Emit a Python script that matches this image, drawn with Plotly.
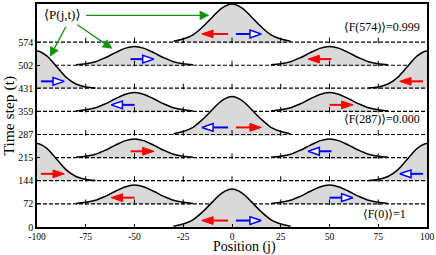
import plotly.graph_objects as go

# ---------------- data ----------------
levels = [0, 72, 144, 215, 287, 359, 431, 502, 574]
ytick_text = ["0", "72", "144", "215", "287", "359", "431", "502", "574"]
xtick_vals = [-100, -75, -50, -25, 0, 25, 50, 75, 100]
xtick_text = ["-100", "-75", "-50", "-25", "0", "25", "50", "75", "100"]

# wave-packet centres / heights on each time row
row_centers = [[0], [-50, 50], [-100, 100], [-50, 50], [0], [-50, 50], [-100, 100], [-50, 50], [0]]
row_heights = [[118], [58, 58], [115, 115], [58, 58], [118], [58, 58], [115, 115], [58, 58], [118]]
row_kind = ["free", "free", "edge", "free", "free", "free", "edge", "free", "free"]

# packet profile (relative to peak)
profile_offsets = [-30, -25, -20, -15, -10, -5, 0, 5, 10, 15, 20, 25, 30]
free_profile = [0.02, 0.08, 0.19, 0.40, 0.66, 0.90, 1.0, 0.90, 0.66, 0.40, 0.19, 0.08, 0.02]
edge_profile = [0.0, 0.03, 0.11, 0.29, 0.58, 0.87, 1.0, 0.87, 0.58, 0.29, 0.11, 0.03, 0.0]

# arrows: row level, tail x, head x, colour
arrow_row = [0, 0, 72, 72, 144, 144, 215, 215, 287, 287, 359, 359, 431, 431, 502, 502, 574, 574]
arrow_tail = [-2, 2, -50, 50, -98, 98, -52, 51, -2, 2, -50, 50, -98, 98, -52, 51, -2, 2]
arrow_head = [-15.5, 15, -62, 62, -86, 86, -40, 39, -15.5, 15, -62, 62, -86, 86, -40, 39, -15.5, 15]
arrow_kind = ["red", "blue", "red", "blue", "red", "blue", "red", "blue",
              "blue", "red", "blue", "red", "blue", "red", "blue", "red", "red", "blue"]
arrow_lift = {0: 20, 72: 19, 144: 21, 215: 20, 287: 22, 359: 20, 431: 21, 502: 19, 574: 25}

baseline_ticks = [-75, -50, -25, 0, 25, 50, 75]

fid_labels = ["⟨F(574)⟩=0.999", "⟨F(287)⟩=0.000", "⟨F(0)⟩=1"]
fid_x = [77, 77, 78]
fid_y = [622, 336, 41]

# ---------------- figure ----------------
FONT = "Liberation Serif, DejaVu Serif, serif"
GRAY = "#d9d9d9"
fig = go.Figure()

for i in reversed(range(len(levels))):
    lev = levels[i]
    prof = edge_profile if row_kind[i] == "edge" else free_profile
    for c, h in zip(row_centers[i], row_heights[i]):
        xs = [c + o for o in profile_offsets]
        ys = [lev + h * p for p in prof]
        fig.add_trace(go.Scatter(
            x=xs + [xs[-1], xs[0]], y=ys + [lev, lev], mode="lines",
            fill="toself", fillcolor=GRAY, line=dict(width=0, shape="spline"),
            hoverinfo="skip", showlegend=False))
        fig.add_trace(go.Scatter(
            x=xs, y=ys, mode="lines",
            line=dict(color="black", width=1.5, shape="spline"),
            hoverinfo="skip", showlegend=False))
    if lev > 0:
        fig.add_trace(go.Scatter(
            x=[-100, 100], y=[lev, lev], mode="lines",
            line=dict(color="black", width=1.2, dash="4px,2px"),
            hoverinfo="skip", showlegend=False))
        fig.add_trace(go.Scatter(
            x=baseline_ticks, y=[lev + 5] * len(baseline_ticks), mode="markers",
            marker=dict(symbol="line-ns", size=4, line=dict(color="black", width=1)),
            hoverinfo="skip", showlegend=False))

HEAD_L = 5.8   # head length (x units)
HEAD_H = 12.0  # head half-height (y units)
for lev, xt, xh, kind in zip(arrow_row, arrow_tail, arrow_head, arrow_kind):
    y = lev + arrow_lift[lev]
    d = 1 if xh > xt else -1
    base = xh - d * HEAD_L
    col = "#ff0000" if kind == "red" else "#0000ff"
    fig.add_trace(go.Scatter(
        x=[xt, base], y=[y, y], mode="lines",
        line=dict(color=col, width=2), hoverinfo="skip", showlegend=False))
    fig.add_trace(go.Scatter(
        x=[xh, base, base, xh], y=[y, y + HEAD_H, y - HEAD_H, y], mode="lines",
        fill="toself", fillcolor=col if kind == "red" else "white",
        line=dict(color=col, width=1 if kind == "red" else 1.5),
        hoverinfo="skip", showlegend=False))

annotations = []
for t, x, y in zip(fid_labels, fid_x, fid_y):
    annotations.append(dict(x=x, y=y, xref="x", yref="y", text=t, showarrow=False,
                            font=dict(family=FONT, size=12, color="black")))

annotations.append(dict(x=-86.8, y=658, xref="x", yref="y", text="⟨P(j,t)⟩",
                        showarrow=False, font=dict(family=FONT, size=13, color="black")))
GREEN = "#129412"
for (hx, hy, tx, ty) in [(-11.6, 657, -75.6, 657), (-93.4, 528, -84.8, 626), (-61.3, 553, -80.1, 631)]:
    annotations.append(dict(x=hx, y=hy, ax=tx, ay=ty, xref="x", yref="y", axref="x", ayref="y",
                            text="", showarrow=True, arrowhead=2, arrowsize=1.5,
                            arrowwidth=1.3, arrowcolor=GREEN, standoff=0, startstandoff=0))

annotations.append(dict(x=0.531, y=-0.091, xref="paper", yref="paper", text="Position (j)",
                        showarrow=False, yanchor="middle",
                        font=dict(family=FONT, size=14, color="black")))
annotations.append(dict(x=-0.072, y=0.5, xref="paper", yref="paper", text="Time step (t)",
                        showarrow=False, textangle=-90, xanchor="center", yanchor="middle",
                        font=dict(family=FONT, size=15.5, color="black")))

fig.update_layout(
    width=436, height=255,
    margin=dict(l=37, r=9, t=2, b=28),
    paper_bgcolor="white", plot_bgcolor="white",
    showlegend=False,
    annotations=annotations,
    xaxis=dict(range=[-100, 100], tickvals=xtick_vals, ticktext=xtick_text,
               ticks="inside", ticklen=3, tickcolor="black",
               showline=True, mirror=True, linecolor="black", linewidth=1.5,
               showgrid=False, zeroline=False,
               tickfont=dict(family=FONT, size=9.5, color="black")),
    yaxis=dict(range=[0, 692], tickvals=levels, ticktext=ytick_text,
               ticks="inside", ticklen=3, tickcolor="black",
               showline=True, mirror=True, linecolor="black", linewidth=1.5,
               showgrid=False, zeroline=False,
               tickfont=dict(family=FONT, size=10, color="black")),
)

fig.write_html("out.html", config={"displayModeBar": False},
               post_script="document.body.style.margin='0px';document.body.style.overflow='hidden';")
